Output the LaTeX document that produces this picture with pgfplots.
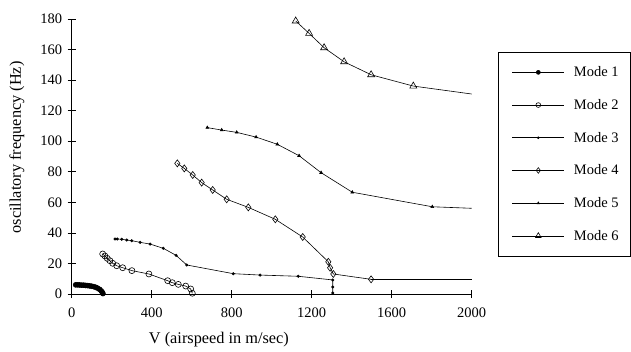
\documentclass[border=0pt]{standalone}
\usepackage{fontspec}
\setmainfont{Liberation Serif}
\usepackage{pgfplots}
\pgfplotsset{compat=1.18}
\newcommand{\fs}{\fontsize{14.5}{17}\selectfont}
\newcommand{\fl}{\fontsize{16.3}{19}\selectfont}
\begin{document}
\begin{tikzpicture}
\useasboundingbox (0,0) rectangle (631pt,351pt);
\begin{axis}[
  at={(71.7pt,57pt)}, anchor=south west,
  scale only axis, width=400pt, height=275pt,
  xmin=0, xmax=2000, ymin=0, ymax=180,
  axis x line=bottom, axis y line=left,
  axis line style={-, line width=0.6pt, black},
  xtick={0,400,800,1200,1600,2000},
  xticklabels={0,400,800,1200,1600,2000},
  ytick={0,20,40,60,80,100,120,140,160,180},
  yticklabels={0,20,40,60,80,100,120,140,160,180},
  tick align=center, major tick length=8pt,
  tick style={line width=0.6pt, black},
  tick label style={font=\fs},
  xticklabel style={yshift=-6pt},
  yticklabel style={xshift=-2pt},
  xlabel={V (airspeed in m/sec)},
  ylabel={oscillatory frequency (Hz)},
  label style={font=\fl},
  xlabel style={at={(axis description cs:0.368,-0.164)}, anchor=center},
  ylabel style={at={(axis description cs:-0.137,0.533)}, anchor=center},
  every axis plot/.append style={line width=0.6pt, black},
  legend style={at={(axis description cs:1.0658,0.88)}, anchor=north west,
    draw=black, line width=0.6pt, row sep=0pt,
    inner xsep=8pt, inner ysep=3.7pt, cells={anchor=west},
    nodes={font=\fs, inner xsep=4pt, inner ysep=0pt, minimum height=32.7pt},
    /tikz/every odd column/.append style={column sep=5.3pt}},
  legend image code/.code={\path (0pt,0pt); \draw[mark repeat=2,mark phase=2,#1] plot coordinates {(5.7pt,0pt)(31.7pt,0pt)(57.7pt,0pt)};},
  legend image post style={/tikz/every mark/.append style={scale=0.8}},
  clip=false,
]
% Mode 1
\addplot[mark=*, mark size=2.5pt, mark options={fill=black}] coordinates {
(20,6.0)(30,6.0)(40,5.9)(50,5.8)(60,5.8)(70,5.6)(80,5.5)(90,5.3)(100,5.1)(110,4.8)(120,4.4)(130,3.8)(140,3.0)(148,2.0)(153,1.0)(156,0.3)};
\addlegendentry{Mode 1}
% Mode 2
\addplot[mark=o, mark size=3pt, mark options={fill=white}] coordinates {
(155,26.2)(166,24.9)(178,23.3)(191,21.8)(205,20.1)(225,18.5)(255,17.2)(301,15.3)(386,13.1)(480,8.7)(503,7.4)(533,6.3)(570,5.2)(595,3.3)(603,0.5)};
\addlegendentry{Mode 2}
% Mode 3
\addplot[mark=*, mark size=1.2pt] coordinates {
(217,36.0)(228,36.0)(250,35.8)(275,35.3)(300,34.9)(342,33.8)(392,32.7)(458,29.9)(522,25.3)(575,19.0)(808,13.3)(942,12.4)(1133,11.6)(1305,9.2)(1305,4.6)(1305,0.7)};
\addlegendentry{Mode 3}
% Mode 4
\addplot[mark=diamond, mark size=3.5pt, mark options={fill=white}] coordinates {
(528,85.5)(563,82.2)(605,77.9)(650,72.9)(705,68.1)(775,62.0)(883,56.7)(1018,48.9)(1155,37.3)(1283,21.1)(1292,17.2)(1308,13.1)(1497,9.6)};
\addlegendentry{Mode 4}
% Mode 5
\addplot[mark=triangle*, mark size=1.6pt] coordinates {
(678,108.9)(750,107.3)(825,105.8)(922,102.7)(1028,98.0)(1137,90.5)(1247,79.4)(1403,66.6)(1803,57.1)};
\addlegendentry{Mode 5}
% Mode 6
\addplot[mark=triangle, mark size=4pt, mark options={fill=white}] coordinates {
(1120,178.7)(1187,170.6)(1262,161.2)(1362,152.0)(1497,143.5)(1708,136.1)};
\addlegendentry{Mode 6}
% unmarked tails
\addplot[forget plot] coordinates {(1497,9.6)(2000,9.6)};
\addplot[forget plot] coordinates {(1803,57.1)(2000,56.1)};
\addplot[forget plot] coordinates {(1708,136.1)(2000,130.9)};
\end{axis}
\end{tikzpicture}
\end{document}
